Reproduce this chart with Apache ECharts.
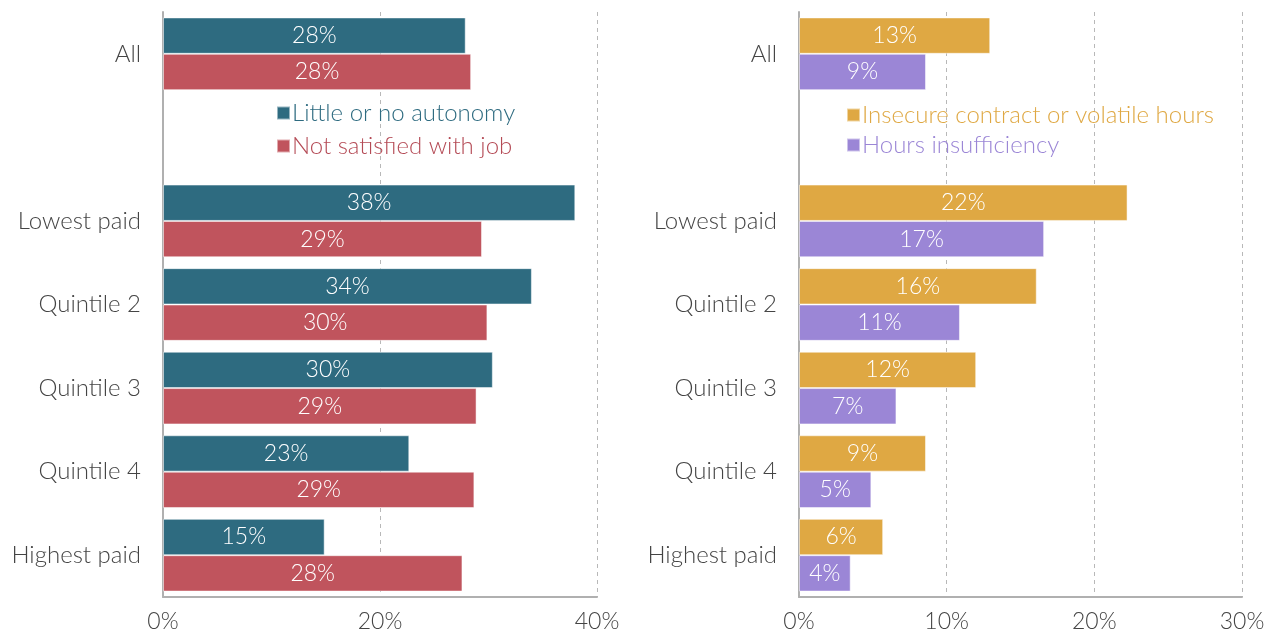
<!DOCTYPE html>
<html>
<head>
<meta charset="utf-8">
<script src="https://cdn.jsdelivr.net/npm/echarts@6/dist/echarts.min.js"></script>
<style>
html,body{margin:0;padding:0;background:#fff;}
#main{width:1275px;height:635px;}
</style>
</head>
<body>
<div id="main"></div>
<script>
var categories = ['All', '', 'Lowest paid', 'Quintile 2', 'Quintile 3', 'Quintile 4', 'Highest paid'];
var autonomy = [27.9, null, 38.0, 34.0, 30.4, 22.7, 14.9];
var notSatisfied = [28.4, null, 29.4, 29.9, 28.9, 28.7, 27.6];
var insecure = [12.95, null, 22.25, 16.1, 12.0, 8.6, 5.7];
var insufficiency = [8.6, null, 16.6, 10.9, 6.6, 4.9, 3.5];
var leftTicks = [0, 20, 40];
var rightTicks = [0, 10, 20, 30];

var font = 'Lato';
var myChart = echarts.init(document.getElementById('main'));

function barSeries(name, data, color, idx) {
  return {
    name: name,
    type: 'bar',
    xAxisIndex: idx,
    yAxisIndex: idx,
    data: data,
    barGap: '0%',
    barCategoryGap: '13%',
    itemStyle: {color: color, borderColor: 'rgba(255,255,255,0.5)', borderWidth: 1},
    label: {
      show: true,
      position: 'inside',
      color: '#fff',
      fontFamily: font,
      fontWeight: 300,
      fontSize: 23,
      formatter: function (p) { return Math.round(p.value) + '%'; }
    }
  };
}

function xAxisFor(idx, ticks) {
  return {
    type: 'value',
    gridIndex: idx,
    min: ticks[0],
    max: ticks[ticks.length - 1],
    interval: ticks[1] - ticks[0],
    axisLine: {show: true, lineStyle: {color: '#b0b0b0', width: 2}},
    axisTick: {show: false},
    splitLine: {show: true, lineStyle: {color: '#b8b8b8', type: [4, 4], width: 1}},
    axisLabel: {
      color: '#444',
      fontFamily: font,
      fontWeight: 300,
      fontSize: 23,
      margin: 13,
      formatter: function (v) { return v + '%'; }
    }
  };
}

function yAxisFor(idx) {
  return {
    type: 'category',
    gridIndex: idx,
    data: categories,
    inverse: true,
    axisLine: {show: true, lineStyle: {color: '#b0b0b0', width: 2}},
    axisTick: {show: false},
    axisLabel: {color: '#444', fontFamily: font, fontWeight: 300, fontSize: 24, margin: 22, padding: [0, 0, 4, 0]}
  };
}

myChart.setOption({
  animation: false,
  grid: [
    {left: 163, right: 678, top: 12, bottom: 38},
    {left: 799, right: 33, top: 12, bottom: 38}
  ],
  xAxis: [xAxisFor(0, leftTicks), xAxisFor(1, rightTicks)],
  yAxis: [yAxisFor(0), yAxisFor(1)],
  legend: [
    {
      left: 271, top: 96, orient: 'vertical',
      itemWidth: 13, itemHeight: 13, itemGap: 9,
      icon: 'rect',
      textStyle: {fontFamily: font, fontWeight: 300, fontSize: 24, padding: [0, 0, 0, -3]},
      data: [
        {name: 'Little or no autonomy', textStyle: {color: '#2e6b80'}},
        {name: 'Not satisfied with job', textStyle: {color: '#b44a55'}}
      ]
    },
    {
      left: 841, top: 98, orient: 'vertical',
      itemWidth: 13, itemHeight: 13, itemGap: 6,
      icon: 'rect',
      textStyle: {fontFamily: font, fontWeight: 300, fontSize: 24, padding: [0, 0, 0, -3]},
      data: [
        {name: 'Insecure contract or volatile hours', textStyle: {color: '#dfa843'}},
        {name: 'Hours insufficiency', textStyle: {color: '#9b86d6'}}
      ]
    }
  ],
  series: [
    barSeries('Little or no autonomy', autonomy, '#2e6b80', 0),
    barSeries('Not satisfied with job', notSatisfied, '#c0545d', 0),
    barSeries('Insecure contract or volatile hours', insecure, '#dfa843', 1),
    barSeries('Hours insufficiency', insufficiency, '#9b86d6', 1)
  ]
});
</script>
</body>
</html>
